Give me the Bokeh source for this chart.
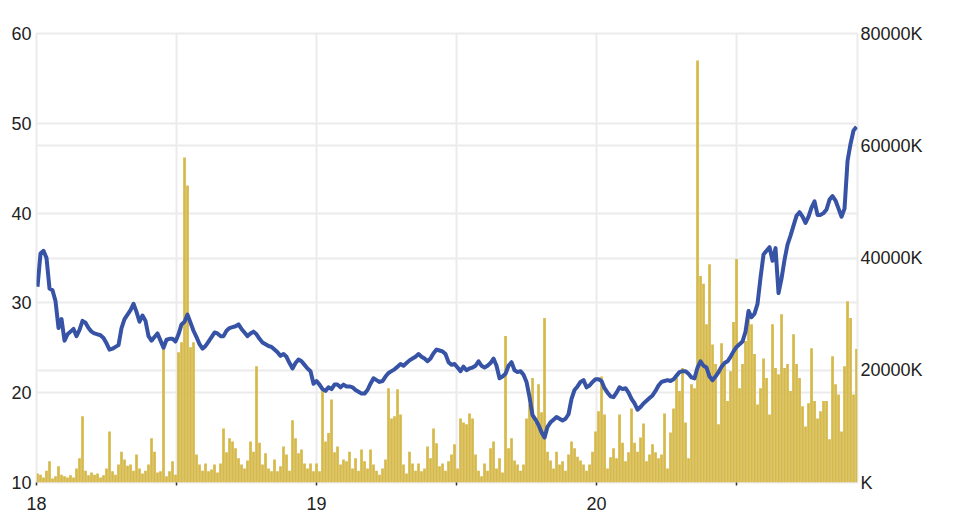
from bokeh.plotting import figure
from bokeh.models import Range1d, LinearAxis, FixedTicker, Grid
from bokeh.embed import file_html
from bokeh.resources import INLINE

# Trading volume (millions of shares), one bar per sampled session
volume_m = [
    1.6, 1.4, 0.9, 2.1, 3.8, 0.7, 1.1, 2.9, 1.4, 1.1,
    0.9, 1.3, 0.9, 2.5, 4.3, 11.8, 2.1, 1.3, 1.8, 1.4,
    1.6, 0.9, 1.3, 2.5, 9.1, 2.0, 1.4, 3.2, 5.5, 4.1,
    3.0, 3.2, 2.1, 5.0, 2.5, 1.6, 2.1, 3.2, 7.9, 5.5,
    1.8, 2.0, 25.0, 1.1, 2.0, 3.8, 1.4, 23.2, 25.0, 57.9,
    52.9, 24.1, 25.0, 5.0, 3.2, 2.1, 3.4, 2.0, 2.3, 3.2,
    1.8, 3.4, 9.6, 5.4, 7.9, 7.3, 6.1, 4.3, 3.2, 2.5,
    3.9, 7.3, 5.5, 20.7, 7.1, 3.2, 5.2, 2.5, 2.0, 4.1,
    2.0, 2.9, 6.4, 5.0, 2.1, 11.1, 7.9, 5.2, 5.9, 3.4,
    2.5, 3.4, 2.0, 3.4, 2.0, 16.3, 7.3, 8.8, 14.8, 5.4,
    6.4, 3.2, 4.1, 3.8, 5.5, 2.5, 4.3, 2.1, 5.9, 3.8,
    2.5, 5.9, 3.2, 2.1, 1.4, 2.5, 4.1, 16.8, 11.4, 11.8,
    16.6, 12.1, 3.2, 1.6, 5.5, 3.4, 2.1, 3.4, 2.0, 2.5,
    6.4, 4.3, 9.6, 7.0, 2.9, 3.4, 2.1, 3.8, 5.0, 6.8,
    2.5, 11.4, 10.7, 10.4, 12.3, 11.4, 5.0, 2.1, 1.1, 3.4,
    2.1, 6.1, 7.3, 2.5, 4.3, 1.8, 26.1, 6.1, 7.9, 3.9,
    3.2, 2.1, 3.2, 11.4, 13.9, 18.6, 10.7, 17.5, 12.5, 29.3,
    5.5, 3.9, 2.5, 5.5, 3.2, 3.8, 2.1, 5.0, 7.3, 6.1,
    4.6, 3.9, 3.2, 2.1, 3.2, 5.5, 9.1, 12.7, 18.9, 12.1,
    2.5, 4.5, 6.1, 4.3, 12.1, 7.1, 3.8, 5.4, 13.2, 7.1,
    5.5, 8.0, 10.5, 3.8, 5.0, 6.8, 5.4, 4.3, 5.0, 12.3,
    2.5, 8.9, 13.2, 18.6, 16.3, 20.4, 10.7, 4.3, 17.5, 16.8,
    75.2, 36.8, 35.4, 28.2, 38.9, 24.6, 21.1, 10.4, 24.8, 21.1,
    14.5, 19.8, 28.6, 39.8, 16.8, 21.1, 25.2, 30.9, 28.2, 22.9,
    13.9, 16.8, 22.1, 18.6, 12.1, 28.2, 20.4, 19.3, 30.0, 20.4,
    21.1, 16.3, 26.4, 21.1, 18.6, 13.6, 10.0, 14.1, 23.9, 14.5,
    11.4, 12.7, 14.5, 14.5, 7.7, 22.5, 17.5, 15.7, 9.1, 20.7,
    32.3, 29.3, 15.7, 23.8,
]

# Closing price
price = [
    31.8, 35.5, 35.8, 35.0, 31.6, 31.4, 30.2, 27.2, 28.2, 25.8,
    26.5, 26.8, 27.1, 26.3, 27.0, 28.0, 27.8, 27.2, 26.8, 26.6,
    26.5, 26.4, 26.1, 25.5, 24.8, 24.9, 25.1, 25.3, 27.2, 28.2,
    28.7, 29.2, 29.9, 29.0, 27.9, 28.6, 28.0, 26.3, 25.8, 26.2,
    26.6, 25.8, 25.0, 25.9, 26.0, 26.0, 25.7, 26.5, 27.6, 27.9,
    28.7, 27.8, 26.9, 26.2, 25.4, 24.9, 25.2, 25.7, 26.2, 26.7,
    26.6, 26.3, 26.3, 26.9, 27.2, 27.3, 27.4, 27.6, 27.1, 26.7,
    26.3, 26.6, 26.8, 26.5, 26.0, 25.6, 25.4, 25.2, 25.1, 24.8,
    24.5, 24.1, 24.3, 24.0, 23.3, 22.7, 23.3, 23.7, 23.5, 23.1,
    22.7, 22.4, 21.0, 21.3, 20.9, 20.4, 20.2, 20.6, 20.4, 20.9,
    20.9, 20.6, 20.9, 20.7, 20.7, 20.6, 20.3, 20.1, 19.9, 19.9,
    20.3, 21.0, 21.6, 21.4, 21.2, 21.3, 21.8, 22.2, 22.4, 22.6,
    22.9, 23.2, 23.0, 23.3, 23.6, 23.8, 24.0, 24.3, 24.0, 23.8,
    23.5, 23.8, 24.4, 24.8, 24.7, 24.6, 24.3, 23.4, 23.1, 23.2,
    22.8, 22.4, 22.9, 22.5, 22.7, 22.8, 23.0, 23.5, 23.0, 22.8,
    23.0, 23.3, 23.8, 23.0, 21.6, 21.8, 22.1, 23.0, 23.4, 22.5,
    22.3, 22.4, 22.0, 21.2, 19.5, 17.5, 17.0, 16.4, 15.6, 15.0,
    16.2, 16.7, 17.0, 17.3, 17.1, 16.9, 17.1, 17.6, 19.3, 20.3,
    20.7, 21.2, 21.4, 20.6, 20.8, 21.2, 21.5, 21.5, 21.3, 20.5,
    20.0, 19.6, 19.5, 20.0, 20.6, 20.4, 20.5, 20.0, 19.3, 18.8,
    18.1, 18.4, 18.8, 19.1, 19.4, 19.7, 20.2, 20.8, 21.2, 21.3,
    21.4, 21.3, 21.5, 21.9, 22.3, 22.4, 22.4, 22.1, 21.7, 21.6,
    22.8, 23.5, 23.0, 22.8, 21.8, 21.4, 21.8, 22.3, 22.9, 23.3,
    23.5, 24.0, 24.6, 25.1, 25.4, 25.7, 26.8, 29.1, 28.4, 28.8,
    29.9, 32.8, 35.4, 35.8, 36.2, 34.7, 36.1, 31.1, 32.7, 34.8,
    36.5, 37.5, 38.6, 39.7, 40.1, 39.6, 38.9, 39.6, 40.6, 41.3,
    39.8, 39.8, 40.0, 40.4, 41.5, 41.9, 41.4, 40.5, 39.6, 40.5,
    45.8, 47.7, 49.2, 49.6,
]

# Sampled session dates, in years (18 = 2018)
start_year = 18.0036
step_year = 0.010714
dates = [start_year + i * step_year for i in range(len(price))]

year_ticks = [18, 19, 20]
half_year_ticks = [18.5, 19.5, 20.5]
price_ticks = [10, 20, 30, 40, 50, 60]
vol_ticks = [0, 20, 40, 60, 80]
vol_labels = {0: "K", 20: "20000K", 40: "40000K", 60: "60000K", 80: "80000K"}

FONT = "Liberation Sans"
GRID = "#ebebeb"
TEXT = "#222222"

p = figure(width=940, height=520,
           x_range=Range1d(18, 20.932), y_range=Range1d(10, 60),
           output_backend="svg", toolbar_location=None,
           min_border_left=36, min_border_right=83,
           min_border_top=33, min_border_bottom=38)
p.extra_y_ranges = {"vol": Range1d(0, 80)}
p.background_fill_color = "white"
p.border_fill_color = "white"
p.outline_line_color = GRID
p.outline_line_width = 2

p.vbar(x=dates, top=volume_m, bottom=0, width=0.0097, y_range_name="vol",
       fill_color="#d6b94b", line_color=None)
p.line(dates, price, line_width=4, line_color="#3753a5", line_join="round")

# x axis
xax = p.xaxis[0]
xax.ticker = FixedTicker(ticks=year_ticks, minor_ticks=half_year_ticks)
xax.axis_line_color = None
xax.major_tick_out = 3
xax.major_tick_in = 0
xax.minor_tick_out = 3
xax.minor_tick_in = 0
xax.major_tick_line_color = "#333333"
xax.minor_tick_line_color = "#333333"
xax.major_tick_line_width = 1.5
xax.minor_tick_line_width = 1.5
xax.major_label_standoff = 11
xax.major_label_text_font = FONT
xax.major_label_text_font_size = "18px"
xax.major_label_text_color = TEXT

# left axis
yax = p.yaxis[0]
yax.ticker = FixedTicker(ticks=price_ticks)
yax.axis_line_color = None
yax.major_tick_out = 0
yax.major_tick_in = 0
yax.minor_tick_line_color = None
yax.major_label_standoff = 5
yax.major_label_text_font = FONT
yax.major_label_text_font_size = "18px"
yax.major_label_text_color = TEXT

# right axis
rax = LinearAxis(y_range_name="vol", ticker=FixedTicker(ticks=vol_ticks),
                 major_label_overrides=vol_labels)
rax.axis_line_color = None
rax.major_tick_out = 0
rax.major_tick_in = 0
rax.minor_tick_line_color = None
rax.major_label_standoff = 3
rax.major_label_text_font = FONT
rax.major_label_text_font_size = "18px"
rax.major_label_text_color = TEXT
p.add_layout(rax, "right")

# grids
p.xgrid.ticker = FixedTicker(ticks=year_ticks, minor_ticks=half_year_ticks)
p.xgrid.grid_line_color = GRID
p.xgrid.grid_line_width = 2
p.xgrid.minor_grid_line_color = GRID
p.xgrid.minor_grid_line_width = 2
p.ygrid.ticker = FixedTicker(ticks=price_ticks)
p.ygrid.grid_line_color = GRID
p.ygrid.grid_line_width = 2
vgrid = Grid(dimension=1, ticker=FixedTicker(ticks=vol_ticks), y_range_name="vol",
             grid_line_color=GRID, grid_line_width=2)
p.add_layout(vgrid)

open("out.html", "w").write(file_html(p, INLINE))
